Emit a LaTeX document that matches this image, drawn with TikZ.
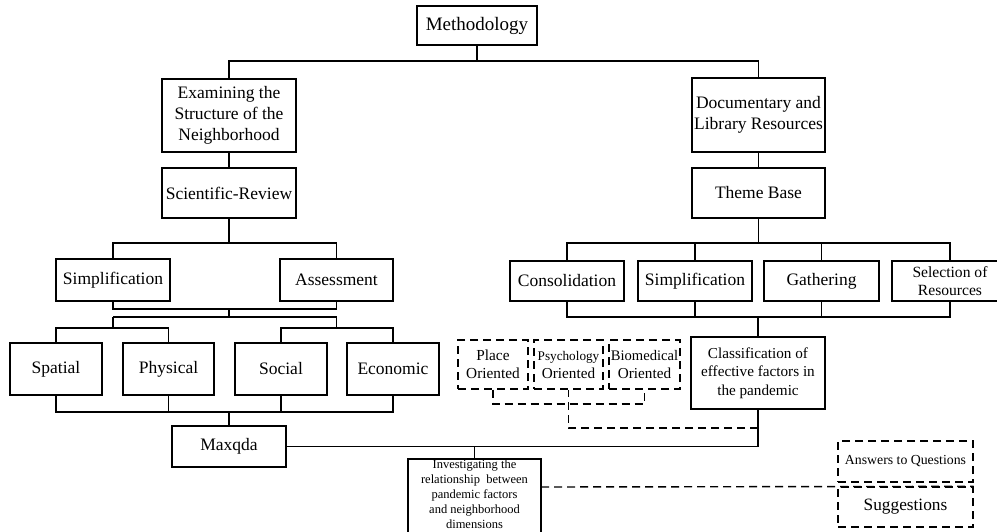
\documentclass[tikz,border=0pt]{standalone}
\usepackage{fontspec}
\setmainfont{Liberation Serif}
\begin{document}
\begin{tikzpicture}[x=1pt,y=-1pt,
  box/.style={draw, line width=1.3pt, inner sep=0pt, align=center, font=\fontsize{17.5}{21}\selectfont},
  dbox/.style={box, dash pattern=on 8pt off 5pt},
  conn/.style={line width=1.4pt},
  dconn/.style={line width=1.4pt, dash pattern=on 8pt off 5pt}]
\useasboundingbox (0,0) rectangle (997,531);
\clip (0,0) rectangle (997,531);
% top
\node[box, minimum width=120, minimum height=39, font=\fontsize{19}{23}\selectfont] (meth) at (477,25.5) {Methodology};
\node[box, minimum width=134, minimum height=73] (exam) at (229,115.5) {Examining the\\Structure of the\\Neighborhood};
\node[box, minimum width=133, minimum height=74] (doc) at (758.5,115) {Documentary and\\Library Resources};
\node[box, minimum width=134, minimum height=50] (sci) at (229,193) {Scientific-Review};
\node[box, minimum width=133, minimum height=50] (theme) at (758.5,193) {Theme Base};
% left second level
\node[box, minimum width=114, minimum height=42] (simpL) at (113,280) {Simplification};
\node[box, minimum width=113, minimum height=42] (assess) at (336.5,280) {Assessment};
% right second level
\node[box, minimum width=114, minimum height=40] (cons) at (567,281) {Consolidation};
\node[box, minimum width=114, minimum height=40] (simpR) at (695,281) {Simplification};
\node[box, minimum width=115, minimum height=40] (gath) at (821.5,281) {Gathering};
\node[box, minimum width=116, minimum height=40, font=\fontsize{15.6}{18}\selectfont] (sel) at (950,281) {Selection of\\Resources};
% left dimensions
\node[box, minimum width=92, minimum height=52] (spatial) at (56,369) {Spatial};
\node[box, minimum width=91, minimum height=52] (phys) at (168.5,369) {Physical};
\node[box, minimum width=92, minimum height=52] (social) at (281,369) {Social};
\node[box, minimum width=92, minimum height=52] (econ) at (393,369) {Economic};
% right classification
\node[dbox, minimum width=70, minimum height=49, font=\fontsize{15.3}{18}\selectfont] (place) at (493,364.5) {Place\\Oriented};
\node[dbox, minimum width=69, minimum height=49, font=\fontsize{15.2}{18}\selectfont] (psych) at (568.5,364.5) {{\fontsize{13.2}{15}\selectfont Psychology}\\Oriented};
\node[dbox, minimum width=71, minimum height=49, font=\fontsize{15.2}{18}\selectfont] (bio) at (644.5,364.5) {{\fontsize{14.6}{17}\selectfont Biomedical}\\Oriented};
\node[box, minimum width=134, minimum height=72, font=\fontsize{15.2}{18.3}\selectfont] (class) at (758,373) {Classification of\\effective factors in\\the pandemic};
% bottom
\node[box, minimum width=114, minimum height=41] (maxqda) at (229,446.5) {Maxqda};
\node[box, minimum width=133, minimum height=82] (inv) at (474.5,500) {};
\node[inner sep=0pt, align=center, font=\fontsize{12.5}{15}\selectfont] (invtext) at (474.5,494) {Investigating the\\relationship\ \ between\\pandemic factors\\and neighborhood\\dimensions};
\node[dbox, minimum width=135, minimum height=41, font=\fontsize{13.8}{16}\selectfont] (ans) at (905.5,461.5) {Answers to Questions};
\node[dbox, minimum width=135, minimum height=40, font=\fontsize{17.3}{20}\selectfont] (sugg) at (905.5,507) {Suggestions};
% junction coordinates
\coordinate (j0) at (477,61);
\coordinate (jL1) at (229,243);
\coordinate (jR1) at (758.5,243);
\coordinate (jL2) at (229,309);
\coordinate (jL3) at (229,317);
\coordinate (jL3a) at (113,317);
\coordinate (jL3b) at (336.5,317);
\coordinate (jL4a) at (113,328);
\coordinate (jL4b) at (336.5,328);
\coordinate (jL5) at (229,412);
\coordinate (jR2) at (758,317);
\coordinate (jM) at (758,446.5);
\coordinate (jI) at (474.5,446.5);
\coordinate (jD1) at (758,428);
\coordinate (jD2) at (568.5,404);
\coordinate (jS) at (541,487);
% solid connectors
\draw[conn] (meth.south) -- (j0);
\draw[conn] (exam.north) |- (j0) -| (doc.north);
\draw[conn] (exam.south) -- (sci.north);
\draw[conn] (doc.south) -- (theme.north);
\draw[conn] (sci.south) -- (jL1);
\draw[conn] (simpL.north) |- (jL1) -| (assess.north);
\draw[conn] (theme.south) -- (jR1);
\draw[conn] (cons.north) |- (jR1) -| (sel.north);
\draw[conn] (simpR.north) -- (simpR.north |- jR1);
\draw[conn] (gath.north) -- (gath.north |- jR1);
\draw[conn] (simpL.south) |- (jL2) -| (assess.south);
\draw[conn] (jL2) -- (jL3);
\draw[conn] (jL3a) -- (jL3b);
\draw[conn] (jL3a) -- (jL4a);
\draw[conn] (jL3b) -- (jL4b);
\draw[conn] (spatial.north) |- (jL4a) -| (phys.north);
\draw[conn] (social.north) |- (jL4b) -| (econ.north);
\draw[conn] (spatial.south) |- (jL5) -| (econ.south);
\draw[conn] (phys.south) -- (phys.south |- jL5);
\draw[conn] (social.south) -- (social.south |- jL5);
\draw[conn] (jL5) -- (maxqda.north);
\draw[conn] (cons.south) |- (jR2) -| (sel.south);
\draw[conn] (simpR.south) -- (simpR.south |- jR2);
\draw[conn] (gath.south) -- (gath.south |- jR2);
\draw[conn] (jR2) -- (class.north);
\draw[conn] (class.south) -- (jM);
\draw[conn] (maxqda.east) -- (jM);
\draw[conn] (jI) -- (inv.north);
% dashed connectors
\draw[dconn] (jD1) -| (psych.south);
\draw[dconn] (place.south) |- (jD2) -| (bio.south);
\draw[dconn] (jS) -- (sugg.north east);
\end{tikzpicture}
\end{document}
